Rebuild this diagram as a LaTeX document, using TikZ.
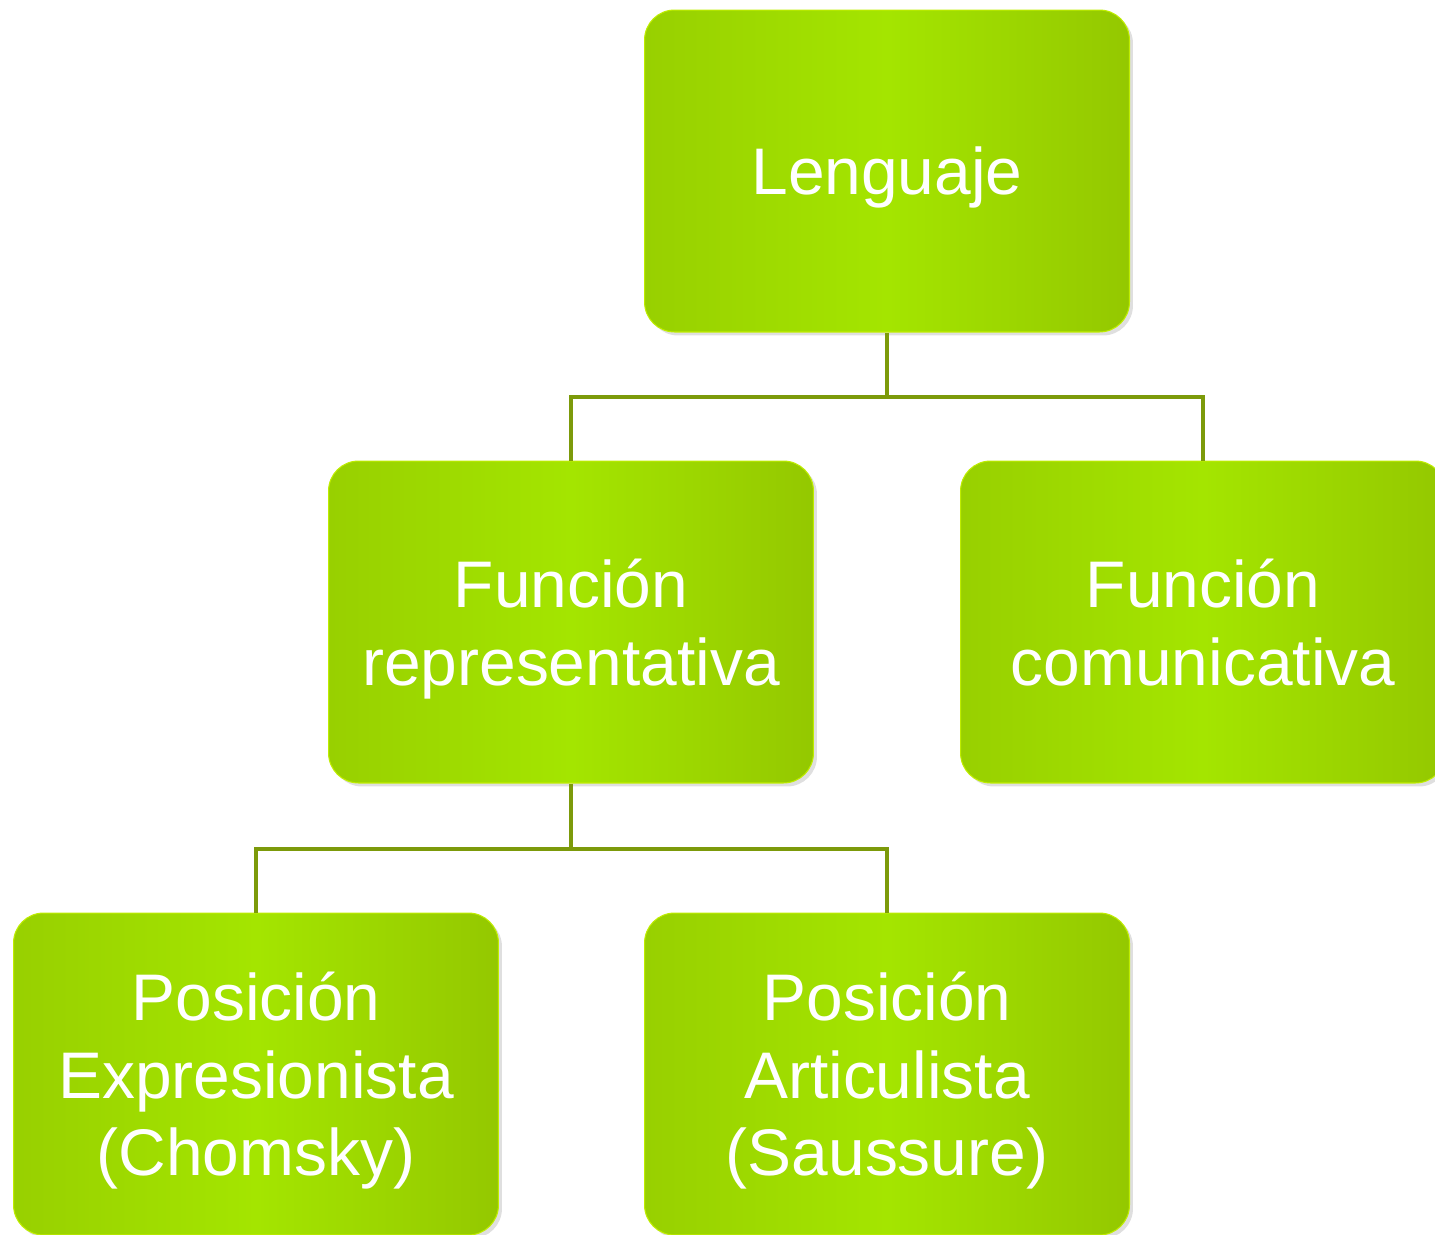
\documentclass[tikz,border=0pt]{standalone}
\usepackage{fontspec}
\setmainfont{Liberation Sans}
\usetikzlibrary{shadows}
\usetikzlibrary{positioning}

\definecolor{boxLeft}{HTML}{98D000}
\definecolor{boxMid}{HTML}{A4E500}
\definecolor{boxRight}{HTML}{94C800}
\definecolor{linkGreen}{HTML}{7C9A0A}

\begin{document}
\begin{tikzpicture}[x=0.02cm, y=-0.02cm,
		box/.style={rectangle, rounded corners=0.6cm, draw=boxMid!70!yellow, line width=0.6pt,
			left color=boxLeft, right color=boxRight, middle color=boxMid,
			minimum width=9.7cm, minimum height=6.44cm, inner sep=0pt, text depth=0pt,
			text=white, align=center, font=\fontsize{37.5}{44.2}\selectfont,
			drop shadow={opacity=0.25, shadow xshift=2pt, shadow yshift=-2pt}},
		link/.style={draw=linkGreen, line width=2.8pt}]
		\useasboundingbox (0,0) rectangle (1435,1234);
		\clip (0,0) rectangle (1435,1234);

		% Top level
		\node[box] (lang) at (887,171) {Lenguaje};

		% Second level
		\node[box] (rep) at (571,622) {Función\\representativa};
		\node[box] (com) at (1203,622) {Función\\comunicativa};

		% Third level
		\node[box] (expr) at (256,1074) {Posición\\Expresionista\\(Chomsky)};
		\node[box] (art) at (887,1074) {Posición\\Articulista\\(Saussure)};

		% Connectors
		\coordinate (bar1) at (887,397);
		\coordinate (bar2) at (571,849);
		\draw[link] (lang.south) -- (bar1);
		\draw[link] (rep.north) |- (bar1) -| (com.north);
		\draw[link] (rep.south) -- (bar2);
		\draw[link] (expr.north) |- (bar2) -| (art.north);
	\end{tikzpicture}
\end{document}
